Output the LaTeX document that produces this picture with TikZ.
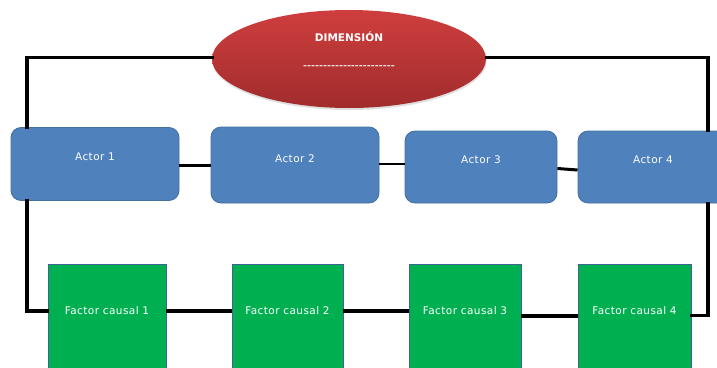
\documentclass[tikz,border=0pt]{standalone}
\usepackage{fontspec}
\usepackage{graphicx}
\usetikzlibrary{shapes.geometric,shadows}
\newfontfamily\labfont[LetterSpace=4]{DejaVu Sans}
\definecolor{actorblue}{HTML}{4F81BD}
\definecolor{actoredge}{HTML}{43709F}
\definecolor{factorgreen}{HTML}{00AF50}
\definecolor{factoredge}{HTML}{3E6394}
\definecolor{redtop}{HTML}{CF3E3E}
\definecolor{redbottom}{HTML}{A12C2C}
\tikzset{
  actorbox/.style={rectangle, rounded corners=10pt, fill=actorblue, draw=actoredge,
    line width=0.8pt, inner sep=0pt, text=white, font=\labfont\fontsize{10.5}{12}\selectfont},
  factorbox/.style={rectangle, fill=factorgreen, draw=factoredge, line width=0.8pt,
    inner sep=0pt, text=white, font=\labfont\fontsize{10.5}{12}\selectfont,
    minimum height=116pt},
  dimshape/.style={ellipse, inner sep=0pt, top color=redtop, bottom color=redbottom,
    draw=none, drop shadow={opacity=0.25, shadow xshift=0.5pt, shadow yshift=-2pt}},
  frame/.style={line width=3.4pt, line cap=rect, line join=miter},
  link/.style={line width=2.2pt}
}
\newcommand{\uptext}[2]{\raisebox{#1}[0pt][0pt]{#2}}
\begin{document}
\begin{tikzpicture}[x=1pt,y=-1pt]
\useasboundingbox (0,0) rectangle (717,367);

% title ellipse
\node[dimshape, minimum width=274pt, minimum height=98pt] (dim) at (349,59)
  {\makebox[0pt]{\uptext{18pt}{\color{white}\fontspec{DejaVu Sans Bold}\fontsize{10.5}{12}\selectfont DIMENSIÓN}}%
   \makebox[0pt]{\uptext{-9.6pt}{\color{white!96!red}\fontspec{DejaVu Sans Bold}\fontsize{8}{10}\selectfont\scalebox{1.2}[1]{-----------------------}}}};

% actors
\node[actorbox, minimum width=168pt, minimum height=73pt] (a1) at (95,164) {\uptext{3.5pt}{Actor 1}};
\node[actorbox, minimum width=168pt, minimum height=76pt] (a2) at (295,165) {\uptext{3pt}{Actor 2}};
\node[actorbox, minimum width=152pt, minimum height=72pt] (a3) at (481,167) {\uptext{3.5pt}{Actor 3}};
\node[actorbox, minimum width=150pt, minimum height=72pt] (a4) at (653,167) {\uptext{3.5pt}{Actor 4}};

% causal factors
\node[factorbox, minimum width=118pt] (f1) at (107,322) {\uptext{7.5pt}{Factor causal 1}};
\node[factorbox, minimum width=111pt] (f2) at (287.5,322) {\uptext{7.5pt}{Factor causal 2}};
\node[factorbox, minimum width=112pt] (f3) at (465,322) {\uptext{7.5pt}{Factor causal 3}};
\node[factorbox, minimum width=113pt] (f4) at (634.5,322) {\uptext{7.5pt}{Factor causal 4}};

% rails of the outer frame
\coordinate (lrail) at (27,57.5);
\coordinate (rrail) at (708,57.5);

% frame from the ellipse down to the first and last actor
\draw[frame] (dim.west |- lrail) -- (lrail) -- (lrail |- a1.north);
\draw[frame] (dim.east |- rrail) -- (rrail) -- (rrail |- a4.north);
% frame from the actors down to the factor row
\draw[frame] (lrail |- a1.south) |- ([yshift=11pt]f1.west);
\draw[frame] (rrail |- a4.south) |- ([yshift=6.5pt]f4.east);

% links between actors
\draw[line width=3pt] ([yshift=-1pt]a1.east) -- (a2.west);
\draw[link] ([yshift=1pt]a2.east) -- ([yshift=3pt]a3.west);
\draw[line width=3pt] ([yshift=-1.5pt]a3.east) -- ([yshift=-3pt]a4.west);

% links between factors
\draw[frame, line cap=butt] ([yshift=11pt]f1.east) -- ([yshift=11pt]f2.west);
\draw[frame, line cap=butt] ([yshift=11pt]f2.east) -- ([yshift=11pt]f3.west);
\draw[frame, line cap=butt] ([yshift=6pt]f3.east) -- ([yshift=6pt]f4.west);
\end{tikzpicture}
\end{document}
